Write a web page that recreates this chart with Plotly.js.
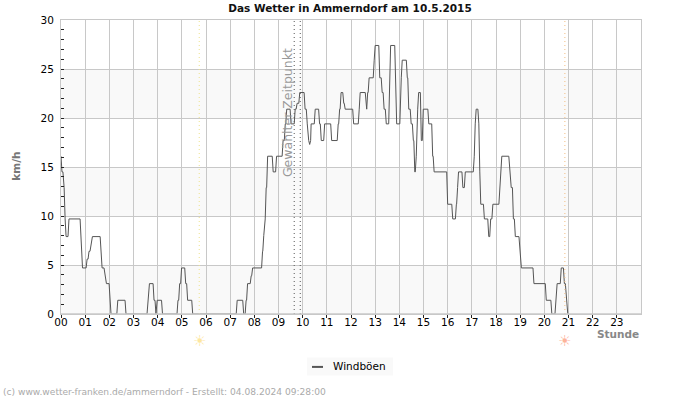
<!DOCTYPE html>
<html><head><meta charset="utf-8">
<script src="https://cdn.plot.ly/plotly-3.0.1.min.js"></script>
<style>html,body{margin:0;padding:0;background:#fff}</style></head>
<body><div id="chart" style="width:700px;height:400px"></div>
<script>
const hours=[0,0.02,0.04,0.12,0.17,0.21,0.33,0.83,0.87,0.89,1.08,1.16,1.24,1.30,1.66,1.70,1.82,1.88,2.03,2.07,2.35,2.69,3.60,3.66,3.85,3.93,3.98,4.20,4.84,4.91,4.99,5.16,5.24,5.45,7.29,7.56,7.66,7.72,7.87,7.93,8.34,8.39,8.43,8.49,8.55,8.78,8.92,9.19,9.28,9.34,9.52,9.69,9.77,9.88,10.10,10.19,10.23,10.29,10.33,10.35,10.52,10.70,10.77,10.91,11.20,11.47,11.53,11.59,11.70,11.76,12.11,12.34,12.38,12.63,12.69,12.75,12.96,13.00,13.19,13.29,13.37,13.46,13.60,13.64,13.85,13.89,14.06,14.12,14.33,14.39,14.49,14.58,14.64,14.70,14.74,14.80,14.91,14.99,15.22,15.38,15.44,16.00,16.21,16.36,16.41,16.45,16.63,16.73,17.10,17.14,17.18,17.29,17.33,17.37,17.52,17.70,17.78,17.87,18.16,18.20,18.24,18.57,18.63,18.72,18.80,18.99,19.05,19.57,20.08,20.31,20.48,20.53,20.70,20.83,20.91,20.97];
const windboeen=[16.1,15.2,14.5,12.9,9.7,7.9,9.7,7.9,6.4,4.7,5.6,6.4,7.0,7.9,6.4,4.7,3.9,3.1,1.4,0,1.4,0,1.4,3.1,1.4,0,1.4,0,1.4,3.1,4.7,3.1,1.4,0,1.4,0,1.4,3.1,3.9,4.7,6.4,8.0,9.7,12.9,16.1,14.5,16.1,17.7,19.4,20.9,19.4,20.9,21.5,22.6,20.9,19.4,17.7,17.3,17.7,19.4,20.9,19.4,17.7,19.4,17.7,19.4,20.9,22.6,21.5,20.9,19.4,20.9,22.6,20.9,22.6,24.1,25.9,27.4,24.1,22.6,20.9,19.4,24.1,27.4,22.0,19.4,24.1,25.9,24.1,20.9,19.4,17.7,14.5,16.1,20.9,22.6,17.7,20.9,19.4,16.1,14.5,11.2,9.7,11.2,12.9,14.5,12.9,14.5,16.1,19.4,20.9,19.4,14.5,11.2,9.7,7.9,9.7,11.2,12.9,14.5,16.1,14.5,12.9,9.7,7.9,6.4,4.7,3.1,1.4,0,1.9,3.1,4.7,3.1,1.4,0];
const hourTicks=[0,1,2,3,4,5,6,7,8,9,10,11,12,13,14,15,16,17,18,19,20,21,22,23];
const hourLabels=["00","01","02","03","04","05","06","07","08","09","10","11","12","13","14","15","16","17","18","19","20","21","22","23"];
const bands=[[0,5],[10,15],[20,25]];
const sunrise=5.72, sunset=20.85, selectedA=9.65, selectedB=9.9;
const font='"DejaVu Sans", sans-serif';
// each reading holds until just before the next one
const lineX=[],lineY=[];
hours.forEach((h,i)=>{lineX.push(h);lineY.push(windboeen[i]);
 if(i<hours.length-1 && hours[i+1]-h>0.05){lineX.push(hours[i+1]-0.04);lineY.push(windboeen[i]);}});
const vline=(x,color)=>({type:'line',xref:'x',yref:'paper',x0:x,x1:x,y0:0,y1:1,layer:'above',line:{color:color,width:1,dash:'1px,3px'}});
const shapes=bands.map(b=>({type:'rect',xref:'paper',yref:'y',x0:0,x1:1,y0:b[0],y1:b[1],fillcolor:'#f9f9f9',line:{width:0},layer:'below'}));
shapes.push(vline(sunrise,'#eee28a'),vline(sunset,'#f3bd80'),vline(selectedA,'#555555'),vline(selectedB,'#555555'));
// the grey base line lies over the zero readings
shapes.push({type:'line',xref:'paper',yref:'y',x0:0,x1:1,y0:0,y1:0,layer:'above',line:{color:'#c8c8c8',width:1.5}});
const px=x=>(x-61)/580, py=y=>(314.5-y)/294.5;
shapes.push({type:'rect',xref:'paper',yref:'paper',x0:px(307),x1:px(393),y0:py(376),y1:py(358),fillcolor:'#f9f9f9',line:{width:0}});
shapes.push({type:'line',xref:'paper',yref:'paper',x0:px(312),x1:px(323),y0:py(367.5),y1:py(367.5),line:{color:'#555555',width:2}});
const trace={x:lineX,y:lineY,type:'scatter',mode:'lines',name:'Windböen',line:{color:'#555555',width:1},cliponaxis:true};
const layout={width:700,height:400,margin:{l:61,r:59,t:20,b:85.5},paper_bgcolor:'#fff',plot_bgcolor:'rgba(0,0,0,0)',
 font:{family:font,size:10.5,color:'#000'},
 title:{text:'<b>Das Wetter in Ammerndorf am 10.5.2015</b>',x:0.5,xanchor:'center',y:0.98,yanchor:'middle',font:{family:font,size:10.5,color:'#111'}},
 xaxis:{range:[0,24],tickvals:hourTicks,ticktext:hourLabels,ticks:'outside',ticklen:3,tickcolor:'#222',showgrid:true,gridcolor:'#c8c8c8',gridwidth:1,showline:true,linecolor:'#c8c8c8',mirror:true,zeroline:false,tickfont:{size:10.5},tickangle:0,ticklabelstandoff:-5},
 yaxis:{range:[0,30],tick0:0,dtick:5,ticks:'inside',ticklen:3,tickcolor:'#222',showgrid:true,gridcolor:'#c8c8c8',gridwidth:1,showline:true,linecolor:'#c8c8c8',mirror:true,zeroline:false,tickfont:{size:10.5},ticklabelstandoff:4,
  minor:{dtick:1,ticks:'inside',ticklen:3,tickcolor:'#222',showgrid:false}},
 showlegend:false,
 shapes:shapes,
 annotations:[
  {xref:'paper',yref:'y',x:px(287),y:20.5,text:'Gewählter Zeitpunkt',textangle:-90,showarrow:false,xanchor:'center',yanchor:'middle',font:{size:12.5,color:'#999999'}},
  {xref:'paper',yref:'paper',x:px(16),xanchor:'center',y:py(167),yanchor:'middle',text:'<b>km/h</b>',textangle:-90,showarrow:false,font:{size:10.5,color:'#777'}},
  {xref:'paper',yref:'paper',x:1,xanchor:'right',y:py(335),yanchor:'middle',text:'<b>Stunde</b>',showarrow:false,font:{size:10.5,color:'#888'}},
  {xref:'x',yref:'paper',x:sunrise,y:py(342),text:'☀',showarrow:false,yanchor:'middle',font:{size:15,color:'#fde7a0'}},
  {xref:'x',yref:'paper',x:sunset,y:py(342),text:'☀',showarrow:false,yanchor:'middle',font:{size:15,color:'#fdb39a'}},
  {xref:'paper',yref:'paper',x:px(331),xanchor:'left',y:py(366.5),yanchor:'middle',text:'Windböen',showarrow:false,font:{size:10.5,color:'#000'}},
  {xref:'paper',yref:'paper',x:px(1),xanchor:'left',y:py(393),yanchor:'middle',text:'(c) www.wetter-franken.de/ammerndorf - Erstellt: 04.08.2024 09:28:00',showarrow:false,font:{size:9.1,color:'#aaaaaa'}}
 ]};
Plotly.newPlot('chart',[trace],layout,{displayModeBar:false,staticPlot:true});
</script></body></html>
